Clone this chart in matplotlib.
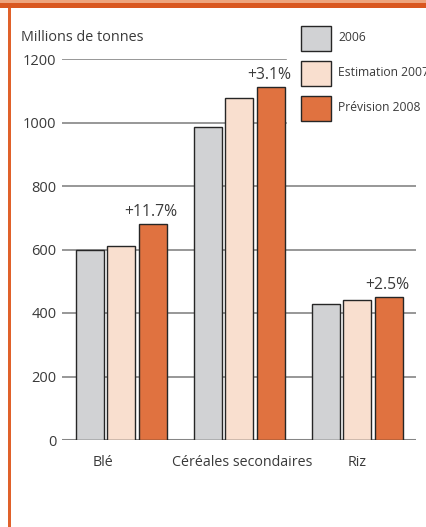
import numpy as np
import matplotlib.pyplot as plt
from matplotlib.patches import Rectangle

plt.rcParams['font.family'] = ['Open Sans', 'DejaVu Sans']

# Production mondiale de céréales (millions de tonnes)
categories = ["Blé", "Céréales secondaires", "Riz"]
series_names = ["2006", "Estimation 2007", "Prévision 2008"]
val_2006 = [597, 986, 429]
val_2007 = [610, 1078, 440]
val_2008 = [681, 1111, 451]
growth_labels = ["+11.7%", "+3.1%", "+2.5%"]
yticks = [0, 200, 400, 600, 800, 1000, 1200]

colors = ["#d1d2d4", "#f9dfcf", "#e07240"]
text_col = "#3a3a3a"
grid_col = "#858585"
frame_col = "#e0612a"

W, H = 426, 527
fig = plt.figure(figsize=(W / 100, H / 100), dpi=100)

# orange frame: top band + left rule
fig.add_artist(Rectangle((0, 1 - 3.3 / H), 1, 3.3 / H, transform=fig.transFigure,
                         color="#eea47c", lw=0))
fig.add_artist(Rectangle((0, 1 - 8.3 / H), 1, 5.0 / H, transform=fig.transFigure,
                         color="#d9571f", lw=0))
fig.add_artist(Rectangle((8.3 / W, 0), 2.4 / W, 1 - 8.3 / H, transform=fig.transFigure,
                         color=frame_col, lw=0))

ax_l, ax_r, ax_b, ax_t = 62, 416, 440, 59
ax = fig.add_axes([ax_l / W, (H - ax_b) / H, (ax_r - ax_l) / W, (ax_b - ax_t) / H])
ax.set_xlim(-0.5, 2.5)
ax.set_ylim(0, 1200)
for s in ax.spines.values():
    s.set_visible(False)

# gridlines; the top two stop short of the legend
for t in yticks:
    if t == 0:
        ax.axhline(t, color=grid_col, lw=2.2, zorder=1)
    elif t >= 1000:
        ax.axhline(t, xmax=0.633, color=grid_col, lw=1.2, zorder=1)
    else:
        ax.axhline(t, color=grid_col, lw=1.2, zorder=1)

x = np.arange(len(categories))
step = 31.5 / 118
width = 28 / 118
for k, vals in enumerate([val_2006, val_2007, val_2008]):
    ax.bar(x + (k - 1) * step, vals, width=width, color=colors[k],
           edgecolor="#262626", linewidth=1.0, zorder=2)

for i, lab in enumerate(growth_labels):
    ax.annotate(lab, (x[i] + step, val_2008[i]), xytext=(-1, 3),
                textcoords="offset points", ha="center", va="bottom",
                fontsize=11.3, color=text_col)

ax.set_yticks(yticks)
ax.set_yticklabels([str(t) for t in yticks], fontsize=10.5, color=text_col)
ax.tick_params(axis="y", length=0, pad=4)
ax.set_xticks([])

# category names under each group
label_shift = [-18 / 118, 3 / 118, 0]
for i, c in enumerate(categories):
    ax.annotate(c, (x[i] + label_shift[i], 0), xytext=(0, -16),
                textcoords="offset points", ha="center", va="center",
                fontsize=10.3, color=text_col)

fig.text(20.7 / W, 1 - 37.7 / H, "Millions de tonnes", ha="left", va="center",
         fontsize=10.4, color=text_col)

# legend built from boxes and labels
box_tops = [26, 61, 95.7]
for k, name in enumerate(series_names):
    fig.add_artist(Rectangle((301 / W, 1 - (box_tops[k] + 25) / H), 30 / W, 25 / H,
                             transform=fig.transFigure, facecolor=colors[k],
                             edgecolor="#262626", lw=1.0))
    fig.text(338 / W, 1 - (box_tops[k] + 11.5) / H, name, ha="left", va="center",
             fontsize=8.7, color=text_col)

fig.savefig("out.png", dpi=100)
